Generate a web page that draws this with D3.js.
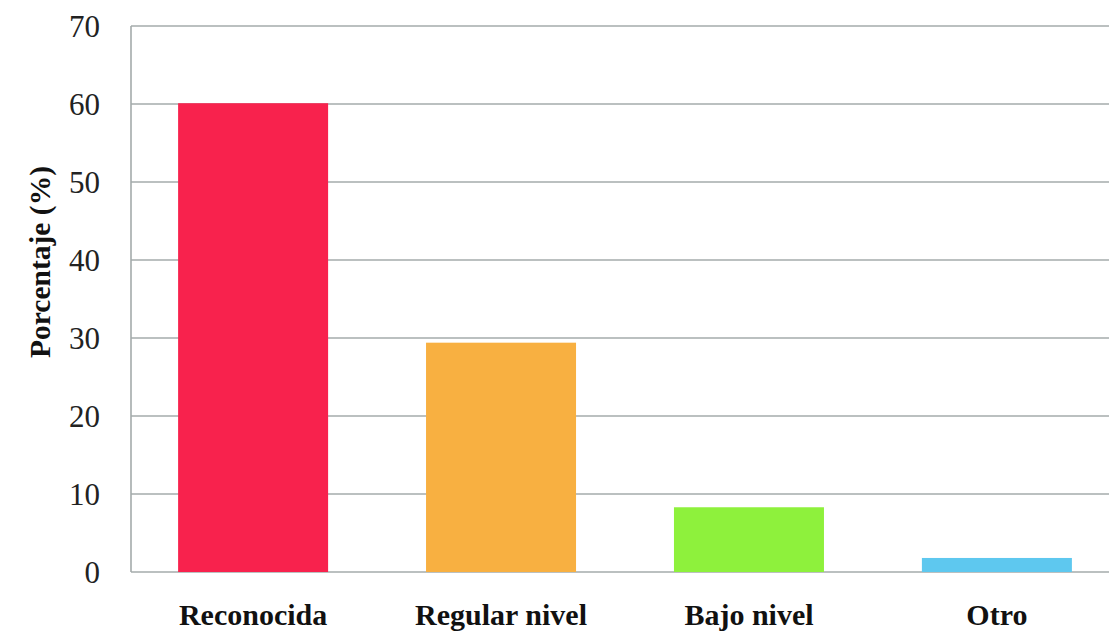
<!DOCTYPE html>
<html><head><meta charset="utf-8">
<script src="https://cdn.jsdelivr.net/npm/d3@7"></script>
<style>html,body{margin:0;padding:0;background:#fff;}svg{display:block;} text{font-family:'Liberation Serif','Times New Roman',serif;}</style>
</head><body>
<svg id="chart" width="1109" height="633"></svg>
<script>
const categories = ["Reconocida", "Regular nivel", "Bajo nivel", "Otro"];
const values = [60.1, 29.4, 8.3, 1.8];
const colors = ["#f8224d", "#f8b041", "#8ef13c", "#5ec8ef"];
const yTicks = [0, 10, 20, 30, 40, 50, 60, 70];
const yTitle = "Porcentaje (%)";

(function () {
const svg = d3.select("#chart");
const mLeft = 131, mTop = 26, mBottom = 572, mRight = 1119;

const x = d3.scaleBand().domain(categories).range([mLeft, mRight]).paddingInner(0.395).paddingOuter(0.19);
const y = d3.scaleLinear().domain([0, 70]).range([mBottom, mTop]);

// gridlines
svg.append("g").selectAll("line").data(yTicks).join("line")
  .attr("x1", mLeft).attr("x2", 1109)
  .attr("y1", d => y(d)).attr("y2", d => y(d))
  .attr("stroke", "#a4abab").attr("stroke-width", 1.6);

// y axis line
svg.append("line").attr("x1", mLeft).attr("x2", mLeft).attr("y1", mTop).attr("y2", mBottom)
  .attr("stroke", "#a4abab").attr("stroke-width", 1.6);

// bars
svg.append("g").selectAll("rect").data(values).join("rect")
  .attr("x", (d, i) => x(categories[i]))
  .attr("width", x.bandwidth())
  .attr("y", d => y(d))
  .attr("height", d => y(0) - y(d))
  .attr("fill", (d, i) => colors[i]);

// y tick labels
svg.append("g").selectAll("text").data(yTicks).join("text")
  .attr("x", 100).attr("y", d => y(d))
  .attr("dy", "0.35em")
  .attr("text-anchor", "end")
  .attr("font-size", 31).attr("fill", "#222")
  .text(d => d);

// x category labels
svg.append("g").selectAll("text").data(categories).join("text")
  .attr("x", d => x(d) + x.bandwidth() / 2).attr("y", 625)
  .attr("text-anchor", "middle")
  .attr("font-weight", "bold")
  .attr("font-size", 30).attr("fill", "#111")
  .text(d => d);

// y title
svg.append("text")
  .attr("transform", "translate(50,262) rotate(-90)")
  .attr("text-anchor", "middle")
  .attr("font-weight", "bold")
  .attr("font-size", 29.5).attr("fill", "#111")
  .text(yTitle);
})();
</script>
</body></html>
